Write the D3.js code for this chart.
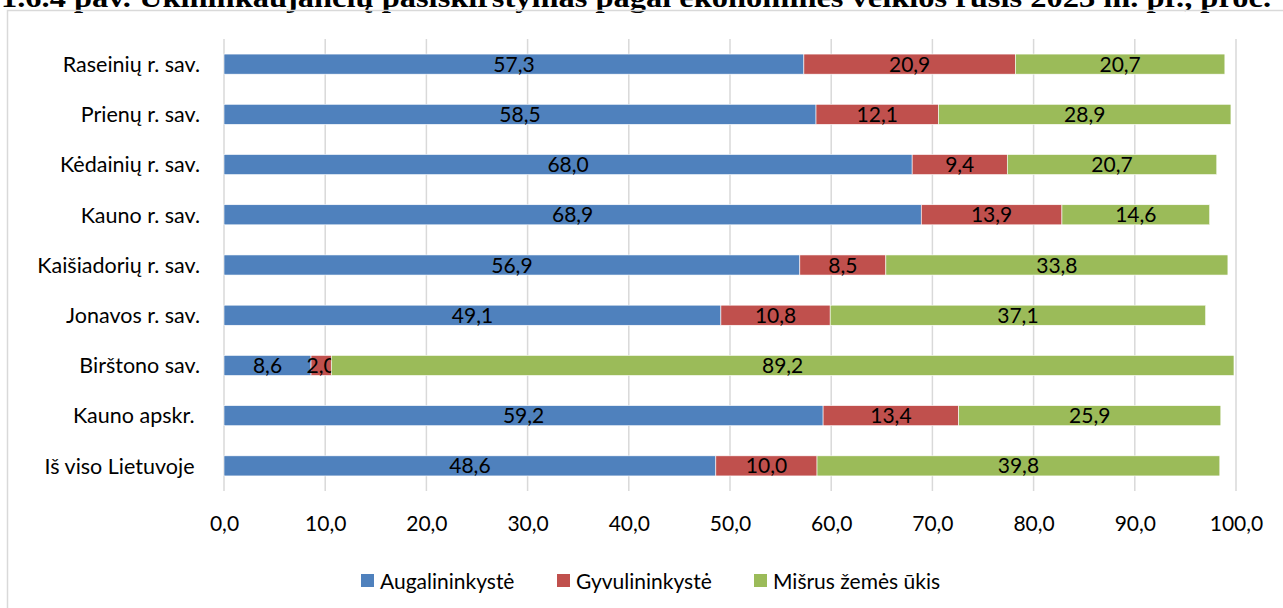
<!DOCTYPE html>
<html>
<head>
<meta charset="utf-8">
<script src="https://cdn.jsdelivr.net/npm/d3@7"></script>
<style>
  body { margin: 0; background: #fff; overflow: hidden; }
  svg { display: block; }
  text { font-family: Lato, "Open Sans", sans-serif; }
</style>
</head>
<body>
<svg width="1283" height="608"></svg>
<script>
// data
var categories = ["Raseinių r. sav.", "Prienų r. sav.", "Kėdainių r. sav.", "Kauno r. sav.",
  "Kaišiadorių r. sav.", "Jonavos r. sav.", "Birštono sav.", "Kauno apskr. ", "Iš viso Lietuvoje "];
var seriesNames = ["Augalininkystė", "Gyvulininkystė", "Mišrus žemės ūkis"];
var augalininkyste = [57.3, 58.5, 68.0, 68.9, 56.9, 49.1, 8.6, 59.2, 48.6];
var gyvulininkyste = [20.9, 12.1, 9.4, 13.9, 8.5, 10.8, 2.0, 13.4, 10.0];
var misrus = [20.7, 28.9, 20.7, 14.6, 33.8, 37.1, 89.2, 25.9, 39.8];
var xTicks = [0, 10, 20, 30, 40, 50, 60, 70, 80, 90, 100];
var colors = ["#4f81bd", "#c0504d", "#9bbb59"];

var svg = d3.select("svg");

// title (cut off at top in the original)
svg.append("text")
    .attr("x", 1)
    .attr("y", 7)
    .attr("textLength", 1270)
    .attr("lengthAdjust", "spacingAndGlyphs")
    .style("font-family", "'Liberation Serif', 'Times New Roman', serif")
    .style("font-weight", "bold")
    .style("font-size", "27px")
    .text("1.6.4 pav. Ūkininkaujančių pasiskirstymas pagal ekonominės veiklos rūšis 2023 m. pr., proc.");

// chart frame
svg.append("rect")
    .attr("x", 7.5).attr("y", 10.5)
    .attr("width", 1300).attr("height", 700)
    .attr("fill", "none")
    .attr("stroke", "#d9d9d9")
    .attr("stroke-width", 1.5);

var x = d3.scaleLinear().domain([0, 100]).range([224, 1236]);
var y = d3.scaleBand().domain(categories).range([39, 491]).paddingInner(0.6).paddingOuter(0.3);

var rows = categories.map(function(c, i) {
  return { cat: c, a: augalininkyste[i], g: gyvulininkyste[i], m: misrus[i] };
});
var stack = d3.stack().keys(["a", "g", "m"]);
var layers = stack(rows);

// gridlines
svg.append("g")
  .selectAll("line")
  .data(xTicks)
  .enter().append("line")
    .attr("x1", function(d) { return x(d); })
    .attr("x2", function(d) { return x(d); })
    .attr("y1", 39)
    .attr("y2", 491)
    .attr("stroke", "#d9d9d9")
    .attr("stroke-width", 1.5);

// bars
var layer = svg.append("g")
  .selectAll("g")
  .data(layers)
  .enter().append("g")
    .attr("fill", function(d, i) { return colors[i]; });

layer.selectAll("rect")
  .data(function(d) { return d; })
  .enter().append("rect")
    .attr("x", function(d) { return x(d[0]); })
    .attr("y", function(d) { return y(d.data.cat); })
    .attr("width", function(d) { return x(d[1]) - x(d[0]); })
    .attr("height", y.bandwidth())
    .attr("stroke", "#fff")
    .attr("stroke-width", 0.6);

// value labels
layer.selectAll("text")
  .data(function(d) { return d; })
  .enter().append("text")
    .attr("x", function(d) { return (x(d[0]) + x(d[1])) / 2; })
    .attr("y", function(d) { return y(d.data.cat) + y.bandwidth() / 2; })
    .attr("dy", "0.36em")
    .attr("text-anchor", "middle")
    .attr("fill", "#000")
    .style("font-size", "21px")
    .text(function(d) { return d3.format(".1f")(d[1] - d[0]).replace(".", ","); });

// category labels
svg.append("g")
  .selectAll("text")
  .data(categories)
  .enter().append("text")
    .attr("x", 200)
    .attr("y", function(d) { return y(d) + y.bandwidth() / 2; })
    .attr("dy", "0.36em")
    .attr("text-anchor", "end")
    .attr("fill", "#000")
    .style("font-size", "21.5px")
    .style("white-space", "pre")
    .text(function(d) { return d; });

// x axis
var xAxis = d3.axisBottom(x)
    .tickValues(xTicks)
    .tickSize(0)
    .tickPadding(0)
    .tickFormat(function(d) { return d3.format(".1f")(d).replace(".", ","); });

var ax = svg.append("g")
    .attr("transform", "translate(0,516)")
    .call(xAxis);
ax.select(".domain").remove();
ax.selectAll("text")
    .attr("fill", "#000")
    .attr("dy", "0.36em")
    .attr("y", 7)
    .style("font-family", "Lato, sans-serif")
    .style("font-size", "21px");

// legend
var legendX = [361, 557, 754];
var legend = svg.append("g")
  .selectAll("g")
  .data(seriesNames)
  .enter().append("g")
    .attr("transform", function(d, i) { return "translate(" + legendX[i] + ",574)"; });
legend.append("rect")
    .attr("width", 13).attr("height", 13)
    .attr("fill", function(d, i) { return colors[i]; });
legend.append("text")
    .attr("x", 19)
    .attr("y", 7)
    .attr("dy", "0.36em")
    .attr("fill", "#000")
    .style("font-size", "21px")
    .text(function(d) { return d; });
</script>
</body>
</html>
